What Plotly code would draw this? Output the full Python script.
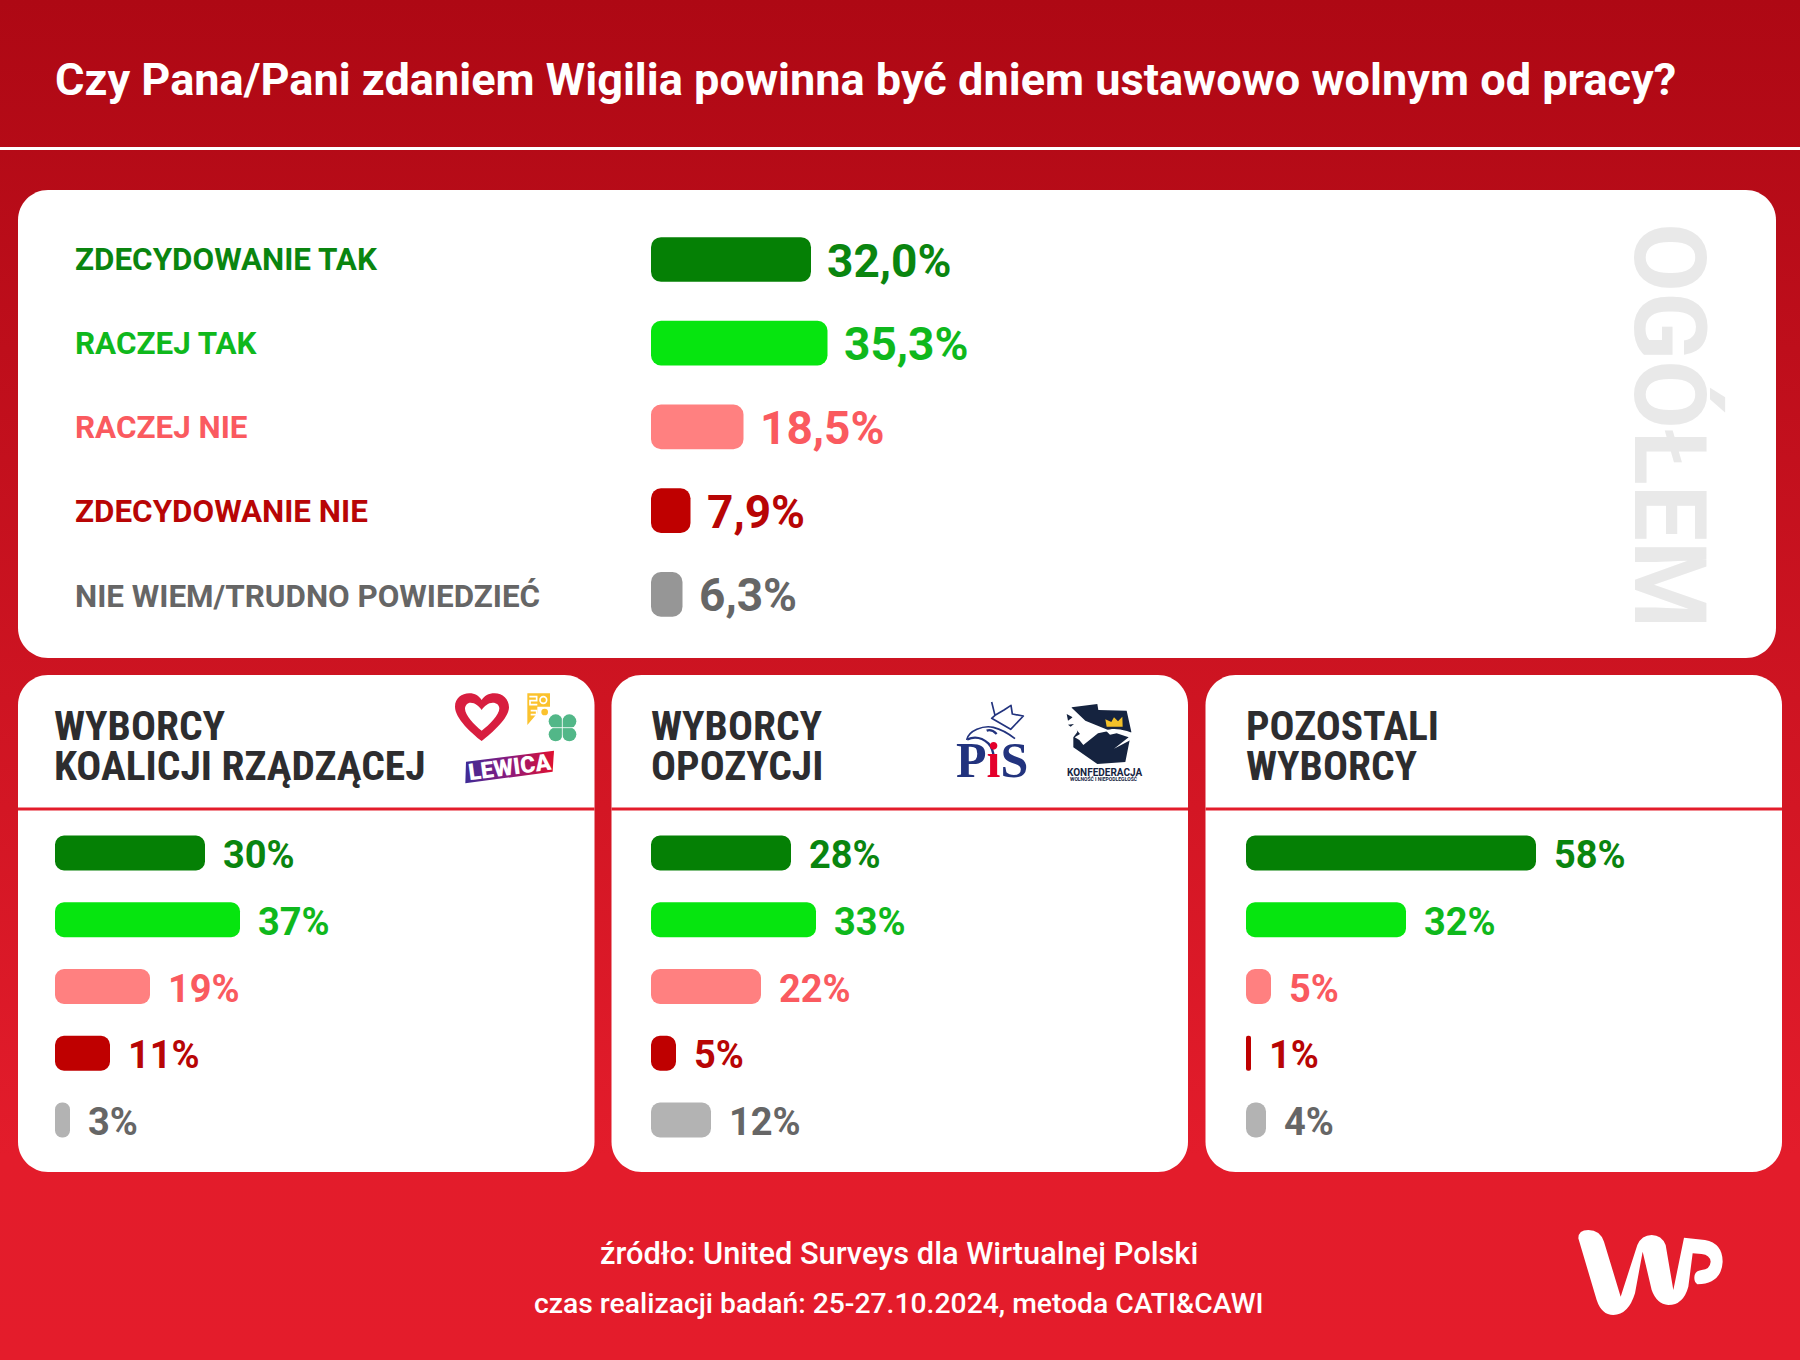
import base64
import plotly.graph_objects as go

W, H = 1800, 1360

# ---------- data ----------
categories = ["ZDECYDOWANIE TAK", "RACZEJ TAK", "RACZEJ NIE", "ZDECYDOWANIE NIE", "NIE WIEM/TRUDNO POWIEDZIEĆ"]
overall_values = [32.0, 35.3, 18.5, 7.9, 6.3]
coalition_values = [30, 37, 19, 11, 3]
opposition_values = [28, 33, 22, 5, 12]
others_values = [58, 32, 5, 1, 4]
overall_labels = ["32,0%", "35,3%", "18,5%", "7,9%", "6,3%"]

bar_colors_main = ["#058005", "#06E50F", "#FF8080", "#BF0000", "#969696"]
bar_colors_small = ["#058005", "#06E50F", "#FF8080", "#BF0000", "#B3B3B3"]
text_colors = ["#0A850F", "#0FB81C", "#FA5A5F", "#B80505", "#666666"]

title_text = "Czy Pana/Pani zdaniem Wigilia powinna być dniem ustawowo wolnym od pracy?"
source_line1 = "źródło: United Surveys dla Wirtualnej Polski"
source_line2 = "czas realizacji badań: 25-27.10.2024, metoda CATI&CAWI"


# ---------- helpers ----------
def X(px):
    return px / W


def Y(py):
    return 1 - py / H


def svg_uri(body):
    svg = f'<svg xmlns="http://www.w3.org/2000/svg" width="{W}" height="{H}" viewBox="0 0 {W} {H}">{body}</svg>'
    return "data:image/svg+xml;base64," + base64.b64encode(svg.encode("utf-8")).decode("ascii")


def rounded(x0, y0, x1, y1, r):
    a, b, c, d = X(x0), X(x1), Y(y0), Y(y1)
    rx, ry = r / W, r / H
    k = 0.55
    return (
        f"M {a+rx} {c} L {b-rx} {c} C {b-rx*(1-k)} {c} {b} {c-ry*(1-k)} {b} {c-ry} "
        f"L {b} {d+ry} C {b} {d+ry*(1-k)} {b-rx*(1-k)} {d} {b-rx} {d} "
        f"L {a+rx} {d} C {a+rx*(1-k)} {d} {a} {d+ry*(1-k)} {a} {d+ry} "
        f"L {a} {c-ry} C {a} {c-ry*(1-k)} {a+rx*(1-k)} {c} {a+rx} {c} Z"
    )


background_svg = (
    '<defs><linearGradient id="g" x1="0" y1="0" x2="0" y2="1">'
    '<stop offset="0" stop-color="#AE0814"/><stop offset="0.85" stop-color="#E31C2B"/>'
    '<stop offset="1" stop-color="#E41C2B"/></linearGradient></defs>'
    f'<rect width="{W}" height="{H}" fill="url(#g)"/>'
)

logos_svg = (
    '<defs><linearGradient id="lw" x1="0" y1="0" x2="1" y2="0">'
    '<stop offset="0" stop-color="#3E2B96"/><stop offset="0.5" stop-color="#8C1A7C"/>'
    '<stop offset="1" stop-color="#E0102F"/></linearGradient></defs>'
    # koalicja
    '<g transform="translate(440 680) scale(0.33333)">'
    '<path fill-rule="evenodd" fill="#D81E3F" d="M125 183 C95 160 45 115 45 80 C45 55 65 40 88 40 C105 40 117 48 125 60 '
    'C133 48 145 40 164 40 C188 40 207 58 207 82 C207 115 155 160 125 183 Z '
    'M125 152 C148 135 178 105 178 85 C178 75 170 68 158 68 C145 68 133 78 125 90 C117 78 105 68 92 68 C82 68 75 76 75 86 '
    'C75 105 103 135 125 152 Z"/>'
    '<path fill="#FBC22D" d="M262 40 H330 V80 H292 L292 100 L262 135 Z"/>'
    '<circle cx="314" cy="96" r="10" fill="#FBC22D"/>'
    '<circle cx="310" cy="60" r="10" fill="none" stroke="#FFFFFF" stroke-width="5"/>'
    '<path d="M268 50 H290 V62 H270 V74 H292" fill="none" stroke="#FFFFFF" stroke-width="5"/>'
    '<path d="M272 92 H290 V104 H272" fill="none" stroke="#FFFFFF" stroke-width="5"/>'
    '<g fill="#52B788"><circle cx="347" cy="124" r="21"/><circle cx="388" cy="124" r="21"/>'
    '<circle cx="347" cy="163" r="21"/><circle cx="388" cy="163" r="21"/>'
    '<rect x="345" y="122" width="45" height="43"/></g>'
    '<path d="M367 100 V178 M328 143 H404" stroke="#FFFFFF" stroke-width="2.5"/>'
    '<path d="M78 245 L342 212 L338 275 L76 310 Z" fill="url(#lw)"/>'
    '</g>'
    # PiS
    '<g transform="translate(940 690) scale(0.33333)" fill="none" stroke="#22337E" stroke-width="5" stroke-linejoin="round">'
    '<path d="M155 36 L165 76 L192 60 L213 46 L217 72 L250 78 L212 118 L155 85 L165 76"/>'
    '<path d="M80 150 C85 122 130 105 160 112 C185 118 205 130 225 146"/>'
    '<path d="M140 122 C150 118 160 122 170 132" stroke-width="7"/>'
    '<path d="M82 148 C105 138 125 142 145 160 C155 170 160 185 162 205" stroke-width="7"/>'
    '</g>'
    # Konfederacja
    '<g transform="translate(940 690) scale(0.33333)">'
    '<path fill="#15233F" d="M395 52 L472 42 L475 60 L560 62 L574 125 L556 216 L472 222 L400 172 L400 142 L412 126 Z"/>'
    '<path fill="#15233F" d="M380 72 L398 82 L384 92 Z M384 104 L402 102 L392 110 Z"/>'
    '<path fill="#FFFFFF" d="M395 53 L436 92 L510 122 L474 130 L430 165 L418 150 L404 142 L420 132 L408 118 L398 84 Z"/>'
    '<path fill="#FFFFFF" d="M498 122 C520 112 560 118 606 142 L572 150 L522 176 L566 142 L530 130 L510 134 Z"/>'
    '<path fill="#F2C029" d="M496 88 L514 96 L522 82 L534 94 L547 80 L548 110 L500 110 Z"/>'
    '</g>'
    # WP
    '<g transform="translate(1400 1180) scale(0.33333)">'
    '<path fill="#FFFFFF" d="M535 175 Q535 150 565 150 Q600 150 612 185 L662 350 L712 195 Q725 165 755 165 Q785 165 797 195 '
    'L820 330 L852 173 L915 180 Q968 190 968 245 Q965 305 905 312 L892 313 Q880 305 884 285 Q888 272 905 270 Q930 268 932 245 '
    'Q930 225 905 222 L878 220 L865 320 Q850 375 805 375 Q770 372 755 330 L728 215 L705 340 Q685 405 640 405 Q605 405 590 360 Z"/>'
    '</g>'
)

# ---------- panels ----------
shapes = [
    dict(type="rect", xref="paper", yref="paper", x0=0, x1=1, y0=Y(147), y1=Y(150),
         fillcolor="#FFFFFF", line_width=0, layer="below"),
]
for box in [(18, 190, 1776, 658, 30), (18, 675, 594.5, 1172, 30), (611.5, 675, 1188, 1172, 30), (1205.5, 675, 1782, 1172, 30)]:
    shapes.append(dict(type="path", path=rounded(*box), xref="paper", yref="paper",
                       fillcolor="#FFFFFF", line_width=0, layer="below"))
for x0, x1 in [(18, 594.5), (611.5, 1188), (1205.5, 1782)]:
    shapes.append(dict(type="rect", xref="paper", yref="paper", x0=X(x0), x1=X(x1), y0=Y(807.5), y1=Y(810.5),
                       fillcolor="#E31C2B", line_width=0, layer="below"))

fig = go.Figure()
annotations = []

px_per_unit = 5
panels = [
    dict(values=overall_values, labels=overall_labels, left=651, right=1776, top=217.65, bottom=636.15,
         width=0.534, colors=bar_colors_main, size=46, shift=14, radius=10, yshift=-1),
    dict(values=coalition_values, labels=[f"{v}%" for v in coalition_values], left=55, right=594, top=819.6, bottom=1153.4,
         width=0.524, colors=bar_colors_small, size=38, shift=16, radius=9, yshift=-2),
    dict(values=opposition_values, labels=[f"{v}%" for v in opposition_values], left=651, right=1188, top=819.6, bottom=1153.4,
         width=0.524, colors=bar_colors_small, size=38, shift=16, radius=9, yshift=-2),
    dict(values=others_values, labels=[f"{v}%" for v in others_values], left=1246, right=1782, top=819.6, bottom=1153.4,
         width=0.524, colors=bar_colors_small, size=38, shift=16, radius=9, yshift=-2),
]
layout_axes = {}
for i, p in enumerate(panels):
    suf = "" if i == 0 else str(i + 1)
    # An explicit base makes plotly round all four corners of a bar, not only the far end.
    fig.add_trace(go.Bar(
        x=p["values"], y=categories, base=[0] * len(categories), orientation="h", width=p["width"],
        marker=dict(color=p["colors"], line_width=0, cornerradius=p["radius"]),
        xaxis="x" + suf, yaxis="y" + suf, hoverinfo="skip", showlegend=False,
    ))
    layout_axes["xaxis" + suf] = dict(domain=[X(p["left"]), X(p["right"])],
                                      range=[0, (p["right"] - p["left"]) / px_per_unit],
                                      visible=False, fixedrange=True, anchor="y" + suf)
    layout_axes["yaxis" + suf] = dict(domain=[Y(p["bottom"]), Y(p["top"])], type="category",
                                      categoryorder="array", categoryarray=categories,
                                      range=[4.5, -0.5], visible=False, fixedrange=True, anchor="x" + suf)
    for cat, val, lab, col in zip(categories, p["values"], p["labels"], text_colors):
        annotations.append(dict(x=val, y=cat, xref="x" + suf, yref="y" + suf, text=lab, showarrow=False,
                                xanchor="left", yanchor="middle", xshift=p["shift"], yshift=p["yshift"],
                                font=dict(family="Roboto", size=p["size"], color=col, weight=700)))


def label(x, y, text, size, color, family="Roboto", weight=700, xanchor="left", angle=0):
    annotations.append(dict(x=X(x), y=Y(y), xref="paper", yref="paper", text=text, showarrow=False,
                            xanchor=xanchor, yanchor="middle", textangle=angle,
                            font=dict(family=family, size=size, color=color, weight=weight)))


label(53, 79, title_text, 45.1, "#FFFFFF")

for cat, row_y, col in zip(categories, [259.5, 343.3, 427.3, 511.5, 596], text_colors):
    label(73, row_y, cat, 31.4, col)

label(1670, 426, "OGÓŁEM", 100, "#E9E9E9", angle=90, xanchor="center")

head_font = "Roboto Condensed, Liberation Sans Narrow, Roboto"
for x, line1, line2 in [(51.5, "WYBORCY", "KOALICJI RZĄDZĄCEJ"), (648.5, "WYBORCY", "OPOZYCJI"), (1243.5, "POZOSTALI", "WYBORCY")]:
    label(x, 725, line1, 41.5, "#2D2D2F", family=head_font)
    label(x, 765, line2, 41.5, "#2D2D2F", family=head_font)

label(899, 1253, source_line1, 30.8, "#FFFFFF", weight=500, xanchor="center")
label(899, 1303, source_line2, 28.3, "#FFFFFF", weight=500, xanchor="center")

# lettering that belongs to the party logos
label(509.5, 767, "LEWICA", 23, "#FFFFFF", weight=900, xanchor="center", angle=-7.5)
label(992, 760, 'P<span style="color:#E4002B">i</span>S', 50, "#22337E", family="Liberation Serif", xanchor="center")
label(1104, 772, "KONFEDERACJA", 10, "#15233F", xanchor="center")
label(1104, 779, "WOLNOŚĆ I NIEPODLEGŁOŚĆ", 5, "#15233F", xanchor="center")

images = [
    dict(source=svg_uri(background_svg), xref="paper", yref="paper", x=0, y=1, sizex=1, sizey=1,
         xanchor="left", yanchor="top", sizing="stretch", layer="below"),
    dict(source=svg_uri(logos_svg), xref="paper", yref="paper", x=0, y=1, sizex=1, sizey=1,
         xanchor="left", yanchor="top", sizing="stretch", layer="above"),
]

fig.update_layout(
    width=W, height=H, margin=dict(l=0, r=0, t=0, b=0, pad=0),
    paper_bgcolor="#C8121F", plot_bgcolor="rgba(0,0,0,0)",
    showlegend=False, barmode="overlay", shapes=shapes, images=images, annotations=annotations,
    **layout_axes,
)

fig.write_html("out.html", config={"displayModeBar": False},
               post_script="document.body.style.margin='0';document.documentElement.style.overflow='hidden';")
